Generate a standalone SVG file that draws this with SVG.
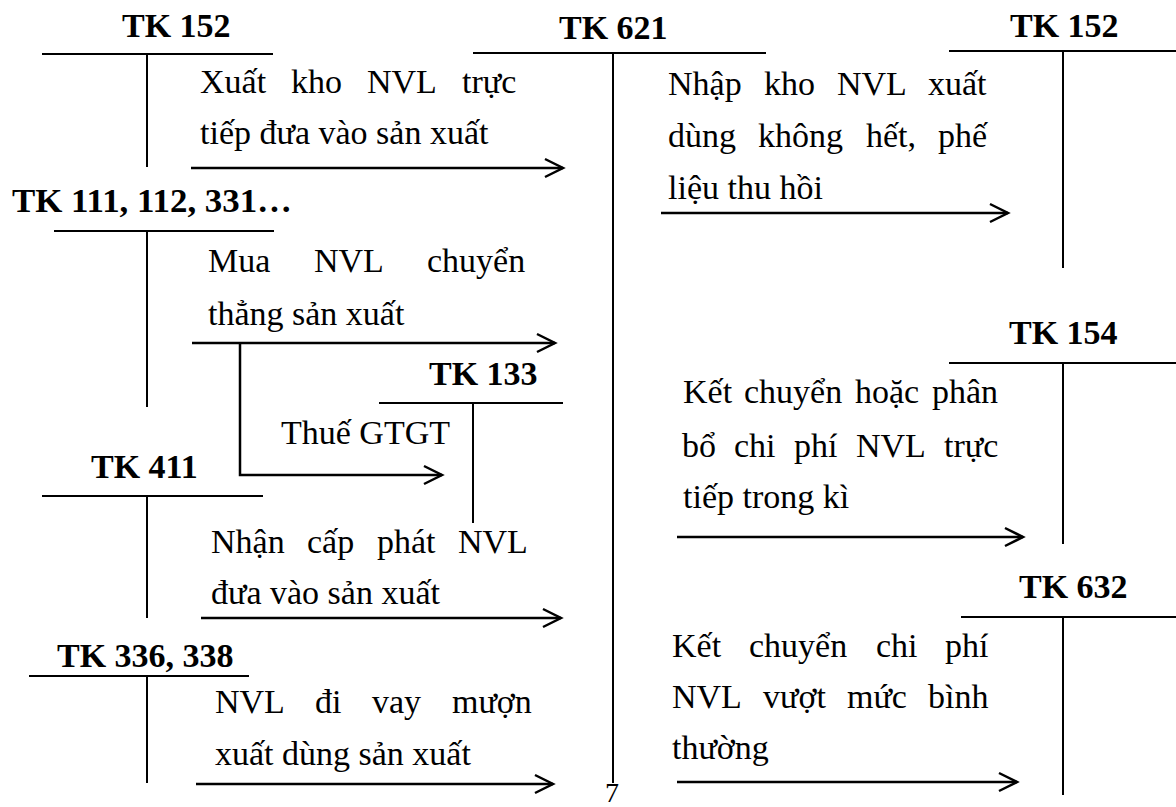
<svg xmlns="http://www.w3.org/2000/svg" width="1176" height="807" viewBox="0 0 1176 807">
  <style>
    .lbl { font-family: "Liberation Serif", "Times New Roman", serif; font-weight: bold; font-size: 34px; fill: #000; }
    .txt { font-family: "Liberation Serif", "Times New Roman", serif; font-size: 34px; fill: #000; }
    .t { stroke: #000; stroke-width: 2; fill: none; }
    .arr { stroke: #000; stroke-width: 2.5; fill: none; marker-end: url(#ah); }
  </style>
  <defs>
    <marker id="ah" markerUnits="userSpaceOnUse" markerWidth="24" markerHeight="24" refX="19" refY="10" orient="auto" overflow="visible">
      <path d="M1,1 L19,10 L1,19" fill="none" stroke="#000" stroke-width="2.5"/>
    </marker>
  </defs>
  <rect width="1176" height="807" fill="#fff"/>

  <g id="tk152-left">
    <text class="lbl" x="122" y="37">TK 152</text>
    <path class="t" d="M42,54 H273 M147,54 V167"/>
  </g>
  <g id="tk621">
    <text class="lbl" x="559" y="39">TK 621</text>
    <path class="t" d="M473,53 H766 M613,54 V783"/>
  </g>
  <g id="tk152-right">
    <text class="lbl" x="1010" y="37">TK 152</text>
    <path class="t" d="M949,51 H1176 M1063,51 V268"/>
  </g>
  <g id="tk111">
    <text class="lbl" x="12" y="212" textLength="280" lengthAdjust="spacingAndGlyphs">TK 111, 112, 331…</text>
    <path class="t" d="M54,231 H274 M147,231 V407"/>
  </g>
  <g id="tk133">
    <text class="lbl" x="429" y="385">TK 133</text>
    <path class="t" d="M379,403 H563 M473,403 V523"/>
  </g>
  <g id="tk411">
    <text class="lbl" x="91" y="478">TK 411</text>
    <path class="t" d="M42,496 H263 M147,496 V618"/>
  </g>
  <g id="tk336">
    <text class="lbl" x="57" y="667">TK 336, 338</text>
    <path class="t" d="M29,676 H249 M147,676 V783"/>
  </g>
  <g id="tk154">
    <text class="lbl" x="1009" y="344">TK 154</text>
    <path class="t" d="M949,363 H1176 M1063,363 V544"/>
  </g>
  <g id="tk632">
    <text class="lbl" x="1019" y="598">TK 632</text>
    <path class="t" d="M961,617 H1176 M1063,617 V795"/>
  </g>

  <g id="connectors">
    <path class="arr" d="M191,168 H563"/>
    <path class="arr" d="M192,343 H555"/>
    <path class="arr" d="M240,343 V475 H442"/>
    <path class="arr" d="M201,618 H561"/>
    <path class="arr" d="M196,784 H553"/>
    <path class="arr" d="M661,213 H1008"/>
    <path class="arr" d="M677,537 H1023"/>
    <path class="arr" d="M677,782 H1017"/>
  </g>

  <g id="labels">
    <text class="txt" y="93"><tspan x="200">Xuất</tspan><tspan x="291">kho</tspan><tspan x="367">NVL</tspan><tspan x="462">trực</tspan></text>
    <text class="txt" x="200" y="144">tiếp đưa vào sản xuất</text>

    <text class="txt" y="272"><tspan x="208">Mua</tspan><tspan x="314">NVL</tspan><tspan x="427">chuyển</tspan></text>
    <text class="txt" x="208" y="325">thẳng sản xuất</text>

    <text class="txt" x="281" y="444">Thuế GTGT</text>

    <text class="txt" y="553"><tspan x="211">Nhận</tspan><tspan x="307">cấp</tspan><tspan x="377">phát</tspan><tspan x="458">NVL</tspan></text>
    <text class="txt" x="211" y="604">đưa vào sản xuất</text>

    <text class="txt" y="713"><tspan x="215">NVL</tspan><tspan x="315">đi</tspan><tspan x="372">vay</tspan><tspan x="452">mượn</tspan></text>
    <text class="txt" x="215" y="765">xuất dùng sản xuất</text>

    <text class="txt" y="95"><tspan x="668">Nhập</tspan><tspan x="764">kho</tspan><tspan x="837">NVL</tspan><tspan x="928">xuất</tspan></text>
    <text class="txt" y="147"><tspan x="668">dùng</tspan><tspan x="758">không</tspan><tspan x="866">hết,</tspan><tspan x="938">phế</tspan></text>
    <text class="txt" x="668" y="199">liệu thu hồi</text>

    <text class="txt" y="403"><tspan x="683">Kết</tspan><tspan x="744">chuyển</tspan><tspan x="855">hoặc</tspan><tspan x="932">phân</tspan></text>
    <text class="txt" y="457"><tspan x="682">bổ</tspan><tspan x="734">chi</tspan><tspan x="794">phí</tspan><tspan x="856">NVL</tspan><tspan x="944">trực</tspan></text>
    <text class="txt" x="683" y="508">tiếp trong kì</text>

    <text class="txt" y="657"><tspan x="672">Kết</tspan><tspan x="749">chuyển</tspan><tspan x="876">chi</tspan><tspan x="945">phí</tspan></text>
    <text class="txt" y="708"><tspan x="672">NVL</tspan><tspan x="763">vượt</tspan><tspan x="847">mức</tspan><tspan x="928">bình</tspan></text>
    <text class="txt" x="672" y="759">thường</text>

    <text class="txt" x="612" y="802" text-anchor="middle" style="font-size:28px">7</text>
  </g>
</svg>
